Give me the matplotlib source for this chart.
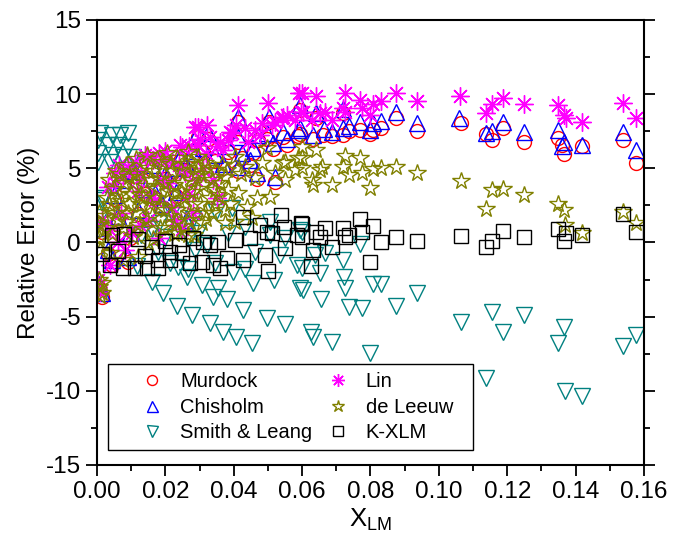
import numpy as np
import matplotlib
matplotlib.use("Agg")
import matplotlib.pyplot as plt
import matplotlib.patches as patches

plt.rcParams['font.family'] = ['Liberation Sans', 'DejaVu Sans']
plt.rcParams['mathtext.fontset'] = 'custom'
plt.rcParams['mathtext.rm'] = 'Liberation Sans'
plt.rcParams['mathtext.it'] = 'Liberation Sans'
plt.rcParams['axes.unicode_minus'] = False

# Murdock
murdock_x = [0.1066, 0.1137, 0.1156, 0.1188, 0.1249, 0.1348, 0.1366, 0.1361, 0.142, 0.1539, 0.1577,
             0.0594, 0.0594, 0.0632, 0.0642, 0.0662, 0.0686, 0.072, 0.0738, 0.0769, 0.0798, 0.0808, 0.0832, 0.0876, 0.0935, 0.072,
             0.0413, 0.0503, 0.0294, 0.0326, 0.0413, 0.0457, 0.0472, 0.0496, 0.0545, 0.0589, 0.0516, 0.0423, 0.0467, 0.0413,
             0.0345, 0.0447, 0.052, 0.0384, 0.0369, 0.0555,
             0.0243, 0.017, 0.0096, 0.0033, 0.005, 0.008, 0.011, 0.014, 0.02, 0.023, 0.026, 0.028, 0.012, 0.019, 0.006,
             0.0015, 0.0005, 0.0015, 0.0045, 0.009, 0.022, 0.031, 0.016, 0.026]
murdock_y = [8.04, 7.3, 6.9, 7.7, 6.76, 7.03, 5.95, 6.6, 6.5, 6.9, 5.34,
             8.9, 7.3, 7.0, 8.4, 7.25, 7.2, 7.25, 7.5, 7.59, 7.3, 7.6, 7.7, 8.37, 7.54, 8.7,
             8.1, 8.1, 7.1, 7.0, 6.8, 6.0, 6.9, 7.0, 7.1, 7.2, 6.3, 5.7, 4.3, 4.8,
             5.5, 5.2, 4.1, 6.1, 5.0, 6.6,
             5.5, 3.0, 0.3, -0.8, 2.9, 3.9, 4.5, 3.3, 4.3, 3.1, 4.9, 5.9, 1.9, 2.3, 1.5,
             0.7, -3.1, -3.7, -1.5, -1.3, 4.7, 6.1, 4.9, 1.2]

# Chisholm
chisholm_x = [0.1058, 0.1137, 0.1156, 0.1188, 0.1249, 0.1348, 0.1366, 0.1361, 0.142, 0.1539, 0.1577,
              0.0594, 0.0594, 0.0632, 0.0642, 0.0664, 0.0686, 0.072, 0.0738, 0.0769, 0.0798, 0.0808, 0.0832, 0.0876, 0.0935, 0.072,
              0.0413, 0.0503, 0.0294, 0.0326, 0.0413, 0.0457, 0.0472, 0.0496, 0.0545, 0.0589, 0.0516, 0.0423, 0.0467, 0.0413,
              0.0345, 0.0447, 0.052, 0.0384, 0.0369, 0.0555,
              0.0243, 0.017, 0.0096, 0.0033, 0.005, 0.008, 0.011, 0.014, 0.02, 0.023, 0.026, 0.028, 0.012, 0.019, 0.006,
              0.0015, 0.0005, 0.0015, 0.0045, 0.009, 0.022, 0.031, 0.016, 0.026]
chisholm_y = [8.37, 7.36, 7.54, 8.15, 7.47, 7.59, 6.8, 6.5, 6.57, 7.47, 6.24,
              9.27, 7.7, 7.25, 8.71, 7.63, 7.47, 7.7, 7.86, 8.15, 7.59, 8.04, 8.21, 8.82, 8.08, 8.98,
              8.48, 8.48, 7.47, 7.36, 7.13, 6.35, 7.25, 7.36, 7.47, 7.59, 6.69, 6.01, 4.67, 5.11,
              5.9, 5.56, 4.44, 6.5, 5.3, 7.0,
              5.79, 3.32, 0.62, -0.51, 3.2, 4.2, 4.8, 3.6, 4.6, 3.4, 5.2, 6.2, 2.2, 2.6, 1.8,
              1.0, -2.8, -3.4, -1.2, -1.0, 5.0, 6.4, 5.2, 1.5]

# Smith & Leang
smith_x = [0.1066, 0.1156, 0.1188, 0.1137, 0.1249, 0.1348, 0.1365, 0.1369, 0.142, 0.1539, 0.1577,
           0.0769, 0.0599, 0.0637, 0.0667, 0.072, 0.0599, 0.0652, 0.0723, 0.0725, 0.0806, 0.0831, 0.0935, 0.0603,
           0.0656, 0.0738, 0.0774, 0.0876, 0.0626, 0.0632, 0.0686, 0.0798,
           0.0394, 0.0348, 0.0384, 0.0433, 0.0506, 0.0506, 0.0462, 0.0535, 0.055, 0.0594, 0.0321, 0.0296, 0.0345,
           0.0398, 0.0433, 0.0457, 0.0518, 0.0584, 0.0594, 0.0306, 0.0355, 0.034, 0.0379, 0.0427, 0.0331, 0.0369,
           0.0408, 0.0452, 0.0496, 0.055,
           0.0009, 0.0043, 0.0067, 0.0092, 0.0033, 0.0062, 0.0092, 0.0048, 0.0077, 0.0038, 0.0106, 0.0004, 0.0004,
           0.0004, 0.0019, 0.0009, 0.0014, 0.0116, 0.016, 0.0194, 0.0233, 0.0279, 0.0213, 0.0238, 0.0267, 0.0262,
           0.0287, 0.0179, 0.02, 0.024, 0.027, 0.018, 0.022, 0.013, 0.016, 0.028]
smith_y = [-5.34, -4.67, -6.01, -9.16, -4.89, -6.8, -5.68, -10.01, -10.35, -6.98, -6.24,
           -0.12, 0.73, -0.84, -0.73, -1.18, -1.74, -2.03, -2.3, -3.09, -2.82, -2.82, -3.43, -3.2,
           -3.81, -4.33, -4.4, -4.28, -6.01, -6.35, -6.69, -7.43,
           2.31, 2.08, 0.62, 1.06, 1.4, 0.51, -0.62, -0.84, 0.28, 0.84, -0.17, 0.62, -1.4,
           -1.97, -1.81, -2.75, -2.53, -1.52, -3.09, -2.87, -3.09, -3.65, -3.83, -4.55, -5.45, -6.01,
           -6.35, -6.76, -5.11, -5.5,
           7.36, 7.25, 7.25, 7.36, 6.57, 6.57, 6.46, 5.9, 5.79, 5.45, 5.79, 6.91, 6.01,
           5.45, 2.98, 1.74, 2.87, -1.58, -2.64, -3.43, -4.28, -4.89, -1.4, -1.63, -1.81, -2.31,
           -0.51, -0.62, 0.4, 1.0, 0.3, 1.3, 2.0, 0.5, 0.9, 1.6]

# Lin
lin_x = [0.0599, 0.0642, 0.0725, 0.0769, 0.0808, 0.0832, 0.0876, 0.0935, 0.1062, 0.1137, 0.1156, 0.1188,
         0.1249, 0.1348, 0.1366, 0.1371, 0.142, 0.1539, 0.1577,
         0.0603, 0.0628, 0.0652, 0.0667, 0.0686, 0.072, 0.0725, 0.0774, 0.0798, 0.0413, 0.0501, 0.0591, 0.0596,
         0.0321, 0.0296, 0.0389, 0.0433, 0.0482, 0.052, 0.0545, 0.0579, 0.036, 0.0369, 0.0442, 0.033, 0.0292,
         0.0408, 0.0477, 0.0511, 0.0145, 0.0248, 0.0199, 0.0111, 0.0077, 0.0053, 0.0384, 0.0394, 0.0462, 0.054,
         0.0555,
         0.0101, 0.015, 0.017, 0.0228, 0.0038, 0.0082, 0.0038, 0.0004, 0.0009, 0.0257, 0.0204, 0.0165, 0.014,
         0.0092, 0.0243, 0.0287, 0.0033, 0.0053, 0.012, 0.019, 0.027, 0.022, 0.031, 0.034, 0.028, 0.007, 0.0125,
         0.035, 0.018, 0.025, 0.0002, 0.0015, 0.006,
         0.013, 0.016, 0.021, 0.024, 0.029, 0.032, 0.018, 0.020, 0.011, 0.0065, 0.030, 0.027, 0.035]
lin_y = [10.1, 9.88, 10.1, 9.61, 9.34, 9.54, 10.1, 9.54, 9.9, 8.71, 9.32, 9.77,
         9.32, 9.27, 8.6, 8.37, 8.1, 9.38, 8.37,
         8.82, 8.26, 8.71, 8.82, 8.26, 9.05, 8.82, 9.09, 8.6, 9.27, 9.39, 10.06, 8.82,
         7.92, 7.81, 7.47, 7.7, 8.04, 8.15, 8.48, 8.26, 6.8, 6.24, 6.8, 7.13, 6.57,
         7.92, 7.25, 7.92, 5.79, 6.46, 5.45, 4.89, 4.44, 3.99, 6.91, 7.36, 7.59, 8.37,
         8.6,
         0.62, 1.52, 2.87, 1.52, 0.84, -0.51, -1.52, -2.53, -3.32, 4.67, 5.56, 5.56, 5.9,
         5.11, 6.57, 7.81, 3.76, 4.67, 3.5, 4.2, 3.3, 2.4, 5.0, 4.2, 2.0, 2.0, 1.2,
         3.0, 0.3, 0.9, -3.0, 1.5, 0.0,
         4.4, 3.0, 4.0, 5.2, 4.2, 6.0, 6.0, 6.2, 5.4, 5.2, 7.0, 6.5, 6.5]

# de Leeuw
leeuw_x = [0.1066, 0.1137, 0.1156, 0.1188, 0.1249, 0.1348, 0.1366, 0.1369, 0.142, 0.1539, 0.1577,
           0.0599, 0.0642, 0.0725, 0.0769, 0.0599, 0.0657, 0.0599, 0.0628, 0.0632, 0.0652, 0.0686, 0.072,
           0.0738, 0.0774, 0.0798, 0.0808, 0.0832, 0.0876, 0.0935, 0.055,
           0.0496, 0.0545, 0.0579, 0.0589, 0.055, 0.052, 0.0433, 0.0482, 0.0404, 0.0345, 0.0316, 0.0374, 0.0296,
           0.0462, 0.0467, 0.0506, 0.0452, 0.0404, 0.0374, 0.0306, 0.0335, 0.0413, 0.0345, 0.0384, 0.044, 0.039,
           0.036, 0.042,
           0.002, 0.003, 0.004, 0.005, 0.006, 0.007, 0.008, 0.009, 0.010, 0.011, 0.012, 0.013, 0.014, 0.015,
           0.016, 0.017, 0.018, 0.019, 0.020, 0.021, 0.022, 0.023, 0.024, 0.025, 0.026, 0.027, 0.028, 0.029,
           0.030, 0.031, 0.032, 0.033,
           0.0045, 0.0075, 0.0105, 0.0135, 0.0165, 0.0195, 0.0225, 0.0255, 0.0285,
           0.0055, 0.0085, 0.0115, 0.0145, 0.0175, 0.0205, 0.0235, 0.0265, 0.0295,
           0.0035, 0.0065, 0.0095, 0.0125, 0.0155, 0.0185, 0.0215, 0.0245, 0.0275,
           0.0005, 0.0005, 0.0005, 0.0008, 0.0005, 0.0005, 0.0008, 0.0014, 0.0014, 0.0038, 0.0077, 0.0121, 0.015,
           0.0233, 0.0267, 0.0018, 0.0025,
           0.0025, 0.0035, 0.0055, 0.0065, 0.0085, 0.0095, 0.0105, 0.0115, 0.0125, 0.0135, 0.0145, 0.0155,
           0.0165, 0.0175, 0.0185, 0.0195, 0.0205, 0.0215, 0.0225, 0.0235, 0.0245, 0.0255, 0.0265, 0.0275,
           0.0285, 0.0295, 0.0305, 0.0315, 0.0325, 0.0335, 0.0345, 0.0355, 0.0365, 0.0375, 0.038]
leeuw_y = [4.15, 2.26, 3.54, 3.59, 3.2, 2.6, 2.19, 1.18, 0.66, 2.08, 1.34,
           6.46, 6.24, 5.83, 5.68, 5.68, 5.11, 5.0, 4.21, 3.88, 4.89, 3.88, 5.11,
           4.55, 4.67, 3.65, 4.94, 5.05, 5.11, 4.67, 5.45,
           6.35, 5.34, 4.89, 5.68, 4.21, 4.67, 5.11, 5.34, 5.79, 4.89, 5.34, 4.44, 5.79,
           4.33, 2.98, 3.09, 1.63, 1.4, 1.29, 1.29, 1.97, 3.32, 3.54, 3.54, 2.4, 2.6,
           4.0, 4.6,
           1.8, 3.0, 2.2, 3.6, 1.5, 2.8, 4.0, 2.0, 3.3, 4.6, 1.2, 2.5, 3.8, 5.0,
           1.8, 3.0, 4.3, 5.4, 2.2, 3.5, 4.8, 1.4, 2.8, 4.0, 5.3, 2.0, 3.4, 4.6,
           2.6, 3.9, 1.6, 3.0,
           0.6, 1.0, 0.4, 0.9, 0.2, 1.0, 0.6, 1.1, 0.5,
           4.8, 5.2, 5.6, 5.9, 5.6, 6.0, 5.7, 6.1, 5.0,
           4.2, 4.6, 4.4, 3.2, 4.2, 2.4, 1.8, 3.4, 4.2,
           2.0, 1.2, 0.3, -0.5, -2.5, -3.0, -3.6, -3.43, -2.75, -0.73, -1.18, -0.96, -0.05,
           0.62, 0.5, 0.8, -0.2,
           1.0, 2.6, 2.0, 3.2, 1.4, 2.6, 4.0, 2.0, 4.8, 3.0, 1.5, 2.6,
           4.8, 3.6, 1.0, 4.0, 2.9, 5.3, 3.9, 2.2, 4.9, 3.0, 1.5, 5.4,
           2.6, 3.6, 4.6, 2.0, 5.0, 4.2, 2.6, 3.2, 5.2, 2.2, 4.9]

# K-XLM
kxlm_x = [0.1066, 0.1137, 0.1156, 0.1188, 0.1249, 0.1348, 0.1371, 0.1365, 0.142, 0.1539, 0.1577,
          0.0599, 0.0642, 0.0667, 0.0652, 0.072, 0.0725, 0.0738, 0.0769, 0.0774, 0.0808, 0.0831, 0.0876, 0.0935,
          0.0633, 0.0686, 0.0626, 0.0798, 0.0599,
          0.0427, 0.0537, 0.0548, 0.0596, 0.0477, 0.0511, 0.0496, 0.0584, 0.0447, 0.0404, 0.0355, 0.0311, 0.033,
          0.055, 0.0491, 0.0306, 0.0379, 0.0427, 0.034, 0.036, 0.0499,
          0.0043, 0.0038, 0.0077, 0.0111, 0.0145, 0.0179, 0.0179, 0.0213, 0.0213, 0.0248, 0.0272, 0.008, 0.012,
          0.016, 0.02, 0.024, 0.028, 0.006, 0.0015, 0.014]
kxlm_y = [0.44, -0.33, 0.12, 0.78, 0.39, 0.89, 0.62, 0.12, 0.5, 1.92, 0.73,
          1.25, 0.73, 0.96, 0.39, 0.96, 0.39, 0.51, 1.56, 0.73, 1.13, 0.05, 0.35, 0.1,
          -0.51, -0.28, -1.56, -1.29, 0.39,
          1.74, 1.85, 1.06, 1.29, 1.18, 0.62, 0.73, 0.51, 0.28, 0.17, 0.05, 0.05, -0.17,
          -0.39, -0.84, -1.29, -1.07, -1.18, -1.52, -1.74, -1.9,
          0.5, -1.52, -1.74, -1.74, -1.74, -1.18, -1.74, -1.18, -0.62, -0.73, -1.4, 0.6, 0.2,
          -0.3, 0.1, -0.2, 0.3, -0.6, -0.8, -0.9]

series = [
    ("Murdock", murdock_x, murdock_y, "o", "#ff0000", 10),
    ("Chisholm", chisholm_x, chisholm_y, "^", "#0000ff", 11),
    ("Smith & Leang", smith_x, smith_y, "v", "#008080", 11),
    ("Lin", lin_x, lin_y, (8, 2, 0), "#ff00ff", 13),
    ("de Leeuw", leeuw_x, leeuw_y, "*", "#808000", 13),
    ("K-XLM", kxlm_x, kxlm_y, "s", "#000000", 10),
]

fig = plt.figure(figsize=(6.85, 5.4), dpi=100)
ax = fig.add_axes([0.1416, 0.139, 0.7985, 0.824])

handles = []
for label, xs, ys, marker, color, ms in series:
    line, = ax.plot(xs, ys, linestyle="none", marker=marker, markersize=ms, markerfacecolor="none",
                    markeredgecolor=color, markeredgewidth=1.0, label=label)
    handles.append(line)

ax.set_xlim(0, 0.16)
ax.set_ylim(-15, 15)
ax.set_xticks(np.arange(0, 0.161, 0.02))
ax.set_xticklabels([f"{v:.2f}" for v in np.arange(0, 0.161, 0.02)])
ax.set_yticks([-15, -10, -5, 0, 5, 10, 15])
ax.set_xticks(np.arange(0.01, 0.16, 0.02), minor=True)
ax.set_yticks(np.arange(-12.5, 15, 5), minor=True)
ax.tick_params(axis="both", which="major", direction="out", length=8, width=1.3, labelsize=17.5)
ax.tick_params(axis="both", which="minor", direction="out", length=4.5, width=1.3)
ax.tick_params(axis="y", which="both", right=True)
for spine in ax.spines.values():
    spine.set_linewidth(1.5)

ax.set_ylabel("Relative Error (%)", fontsize=17.5, labelpad=4)
ax.set_xlabel(r"X$_{\mathrm{LM}}$", fontsize=18.5, labelpad=3)

# legend frame drawn separately so the entries can sit where they do in the original
frame = patches.Rectangle((108 / 685, 1 - 450 / 540), 365 / 685, 86 / 540, transform=fig.transFigure,
                          facecolor="white", edgecolor="black", linewidth=1.0, zorder=5)
fig.patches.append(frame)
leg = fig.legend(handles=handles, loc="upper left", bbox_to_anchor=(138 / 685, 1 - 372 / 540),
                 bbox_transform=fig.transFigure, ncol=2, fontsize=14.5, markerscale=0.72,
                 frameon=False, borderaxespad=0, borderpad=0, labelspacing=0.33,
                 handlelength=1.4, handletextpad=0.7, columnspacing=0.55)
leg.set_zorder(6)

plt.savefig("out.png", dpi=100)
